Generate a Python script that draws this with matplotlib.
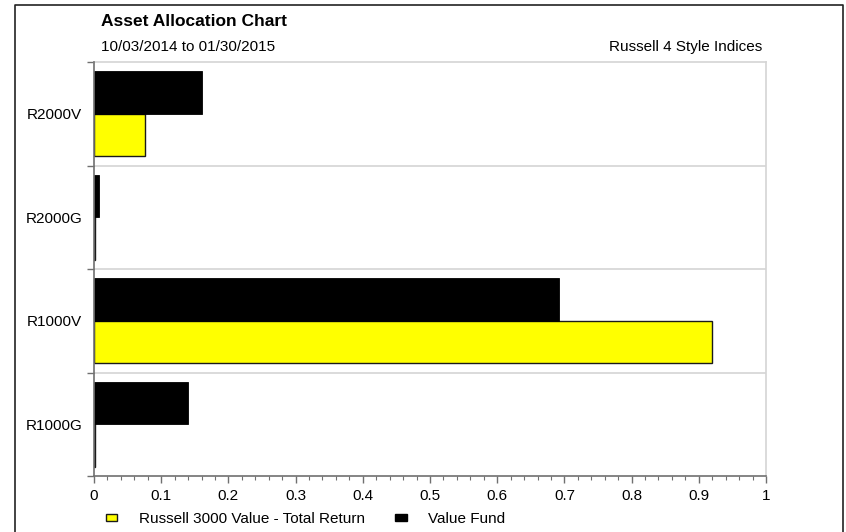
import matplotlib
matplotlib.use("Agg")
import matplotlib.pyplot as plt
from matplotlib.lines import Line2D
from matplotlib.patches import Rectangle
import numpy as np

plt.rcParams['font.family'] = ['Liberation Sans', 'DejaVu Sans']

# Style indices, listed bottom to top
categories = ["R1000G", "R1000V", "R2000G", "R2000V"]
benchmark_name = "Russell 3000 Value - Total Return"
fund_name = "Value Fund"
benchmark_values = [0.002, 0.920, 0.002, 0.076]
fund_values = [0.140, 0.692, 0.007, 0.161]
x_ticks = [0, 0.1, 0.2, 0.3, 0.4, 0.5, 0.6, 0.7, 0.8, 0.9, 1]
x_tick_labels = ["0", "0.1", "0.2", "0.3", "0.4", "0.5", "0.6", "0.7", "0.8", "0.9", "1"]

title = "Asset Allocation Chart"
period = "10/03/2014 to 01/30/2015"
universe = "Russell 4 Style Indices"

fig = plt.figure(figsize=(8.46, 5.32), dpi=100)
ax = fig.add_axes([94 / 846, 1 - 476 / 532, 672 / 846, 414 / 532])

y = np.arange(len(categories))
h = 0.41
ax.barh(y - h / 2, benchmark_values, height=h, color="#FFFF00",
        edgecolor="#1a1a1a", linewidth=1.0, zorder=3)
ax.barh(y + h / 2, fund_values, height=h, color="#000000",
        edgecolor="#000000", linewidth=0.6, zorder=3)

ax.set_xlim(0, 1)
ax.set_ylim(-0.5, len(categories) - 0.5)

# band separators
for edge in np.arange(0.5, len(categories) - 0.5, 1):
    ax.axhline(edge, color="#D4D4D4", linewidth=1.2, zorder=1)

ax.set_xticks(x_ticks)
ax.set_xticklabels(x_tick_labels, fontsize=11)
ax.set_xticks(np.arange(0, 1.001, 0.02), minor=True)
ax.tick_params(axis="x", which="major", length=5, width=1, color="#707070",
               direction="out", pad=4)
ax.tick_params(axis="x", which="minor", length=3, width=0.8, color="#707070",
               direction="out")

ax.set_yticks(np.arange(-0.5, len(categories), 1))
ax.set_yticklabels([])
ax.set_yticks(y, minor=True)
ax.set_yticklabels(categories, minor=True, fontsize=11)
ax.tick_params(axis="y", which="major", length=5, width=1, color="#707070",
               direction="out")
ax.tick_params(axis="y", which="minor", length=0, pad=8.5)

for side in ("left", "bottom"):
    ax.spines[side].set_color("#707070")
    ax.spines[side].set_linewidth(1.2)
for side in ("top", "right"):
    ax.spines[side].set_color("#D4D4D4")
    ax.spines[side].set_linewidth(1.2)
ax.spines["left"].set_zorder(4)

# Titles
fig.text(101 / 846, 1 - 21 / 532, title, fontsize=12.5, fontweight="bold",
         ha="left", va="center")
fig.text(101 / 846, 1 - 47 / 532, period, fontsize=11, ha="left", va="center")
fig.text(762 / 846, 1 - 47 / 532, universe, fontsize=11, ha="right", va="center")

# Legend
handles = [
    Rectangle((0, 0), 1, 1, facecolor="#FFFF00", edgecolor="#1a1a1a", linewidth=1.0),
    Rectangle((0, 0), 1, 1, facecolor="#000000", edgecolor="#000000", linewidth=1.0),
]
fig.legend(handles, [benchmark_name, fund_name], loc="center left",
           bbox_to_anchor=(106 / 846, 1 - 519 / 532), ncol=2, frameon=False,
           fontsize=11, handlelength=0.75, handleheight=0.4, handletextpad=1.4,
           columnspacing=2.0, borderaxespad=0, borderpad=0)

# Outer frame
frame = Line2D([15 / 846, 15 / 846, 843 / 846, 843 / 846],
               [-0.01, 1 - 5 / 532, 1 - 5 / 532, -0.01],
               transform=fig.transFigure, color="#222222", linewidth=1.2)
fig.add_artist(frame)

fig.savefig("out.png", dpi=100, facecolor="white")
